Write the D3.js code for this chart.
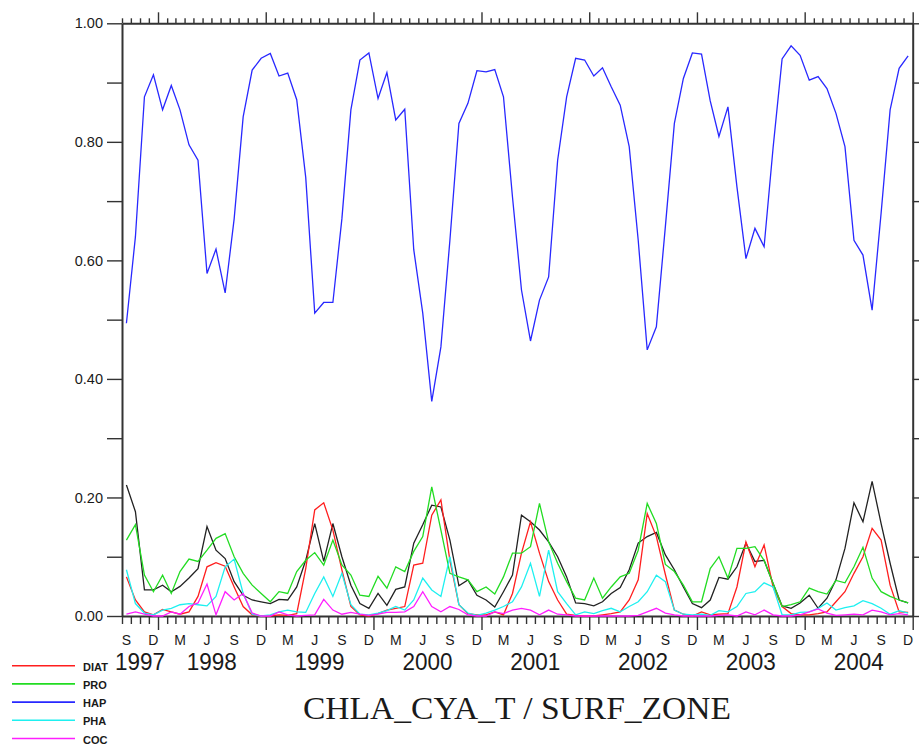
<!DOCTYPE html>
<html>
<head>
<meta charset="utf-8">
<script src="https://cdnjs.cloudflare.com/ajax/libs/d3/7.8.5/d3.min.js"></script>
<style>
  body { margin: 0; background: #fff; }
  svg { display: block; }
  text { font-family: "Liberation Sans", Arial, sans-serif; fill: #1a1a1a; }
</style>
</head>
<body>
<div id="main"></div>
<script>
// monthly values, Sep 1997 .. Dec 2004 (88 months)
var firstMonth = new Date(1997, 8, 1);
var lastMonth = new Date(2005, 0, 1);

var diat = [0.066, 0.027, 0.007, 0.002,
  0.011, 0.007, 0.003, 0.007, 0.033, 0.083, 0.090, 0.084, 0.049, 0.016, 0.002, 0.000,
  0.000, 0.002, 0.001, 0.004, 0.080, 0.179, 0.191, 0.145, 0.078, 0.016, 0.002, 0.000,
  0.004, 0.010, 0.013, 0.016, 0.086, 0.089, 0.170, 0.196, 0.094, 0.019, 0.004, 0.002,
  0.002, 0.007, 0.002, 0.038, 0.106, 0.159, 0.106, 0.058, 0.027, 0.003, 0.001, 0.000,
  0.000, 0.002, 0.004, 0.007, 0.027, 0.061, 0.173, 0.134, 0.070, 0.010, 0.003, 0.000,
  0.007, 0.002, 0.003, 0.004, 0.049, 0.125, 0.083, 0.120, 0.049, 0.016, 0.004, 0.002,
  0.002, 0.004, 0.007, 0.024, 0.041, 0.072, 0.100, 0.148, 0.128, 0.052, 0.007, 0.006];

var pro = [0.128, 0.154, 0.069, 0.041,
  0.069, 0.038, 0.075, 0.096, 0.092, 0.111, 0.131, 0.139, 0.100, 0.072, 0.052, 0.038,
  0.024, 0.041, 0.038, 0.075, 0.094, 0.107, 0.086, 0.128, 0.086, 0.069, 0.035, 0.033,
  0.067, 0.047, 0.083, 0.075, 0.109, 0.134, 0.218, 0.145, 0.072, 0.066, 0.061, 0.041,
  0.049, 0.037, 0.066, 0.106, 0.106, 0.117, 0.190, 0.125, 0.089, 0.058, 0.030, 0.027,
  0.064, 0.030, 0.049, 0.066, 0.072, 0.111, 0.190, 0.156, 0.087, 0.075, 0.052, 0.024,
  0.024, 0.080, 0.100, 0.064, 0.114, 0.114, 0.117, 0.094, 0.055, 0.016, 0.019, 0.024,
  0.047, 0.041, 0.037, 0.060, 0.056, 0.083, 0.116, 0.064, 0.041, 0.033, 0.027, 0.022];

var hap = [0.494, 0.640, 0.876, 0.913,
  0.854, 0.895, 0.854, 0.795, 0.769, 0.578, 0.619, 0.545, 0.670, 0.842, 0.921, 0.941,
  0.949, 0.911, 0.916, 0.871, 0.740, 0.511, 0.529, 0.529, 0.670, 0.854, 0.938, 0.950,
  0.873, 0.917, 0.837, 0.855, 0.618, 0.511, 0.362, 0.454, 0.634, 0.831, 0.865, 0.920,
  0.918, 0.922, 0.876, 0.707, 0.550, 0.464, 0.533, 0.572, 0.769, 0.876, 0.941, 0.938,
  0.911, 0.925, 0.893, 0.862, 0.792, 0.634, 0.449, 0.488, 0.657, 0.831, 0.907, 0.950,
  0.948, 0.869, 0.809, 0.859, 0.724, 0.603, 0.654, 0.623, 0.790, 0.940, 0.962, 0.946,
  0.904, 0.910, 0.890, 0.848, 0.792, 0.634, 0.609, 0.516, 0.680, 0.854, 0.924, 0.945];

var pha = [0.078, 0.021, 0.005, 0.002,
  0.010, 0.013, 0.019, 0.021, 0.019, 0.017, 0.033, 0.083, 0.096, 0.038, 0.003, 0.000,
  0.002, 0.007, 0.010, 0.007, 0.006, 0.038, 0.066, 0.033, 0.072, 0.019, 0.003, 0.002,
  0.005, 0.009, 0.016, 0.010, 0.027, 0.064, 0.044, 0.033, 0.100, 0.019, 0.005, 0.001,
  0.005, 0.010, 0.016, 0.024, 0.049, 0.089, 0.033, 0.111, 0.041, 0.021, 0.002, 0.007,
  0.004, 0.009, 0.013, 0.007, 0.016, 0.024, 0.041, 0.069, 0.058, 0.010, 0.003, 0.002,
  0.003, 0.001, 0.009, 0.007, 0.016, 0.038, 0.041, 0.056, 0.049, 0.002, 0.002, 0.006,
  0.007, 0.013, 0.022, 0.010, 0.014, 0.017, 0.026, 0.021, 0.013, 0.003, 0.009, 0.005];

var coc = [0.003, 0.007, 0.003, 0.000,
  0.000, 0.007, 0.003, 0.016, 0.022, 0.054, 0.002, 0.041, 0.027, 0.038, 0.005, 0.000,
  0.000, 0.007, 0.002, 0.000, 0.001, 0.002, 0.028, 0.010, 0.003, 0.006, 0.003, 0.001,
  0.003, 0.006, 0.006, 0.007, 0.016, 0.041, 0.016, 0.007, 0.016, 0.011, 0.002, 0.000,
  0.000, 0.007, 0.004, 0.010, 0.013, 0.010, 0.002, 0.010, 0.003, 0.002, 0.000, 0.000,
  0.000, 0.000, 0.000, 0.000, 0.000, 0.001, 0.007, 0.013, 0.005, 0.002, 0.000, 0.000,
  0.000, 0.000, 0.001, 0.002, 0.000, 0.007, 0.002, 0.010, 0.002, 0.000, 0.000, 0.002,
  0.007, 0.012, 0.005, 0.001, 0.002, 0.003, 0.002, 0.010, 0.007, 0.002, 0.004, 0.002];

// black line, not in the legend
var blackLine = [0.221, 0.176, 0.044, 0.044,
  0.052, 0.041, 0.050, 0.064, 0.080, 0.151, 0.111, 0.097, 0.058, 0.035, 0.027, 0.024,
  0.021, 0.028, 0.027, 0.049, 0.094, 0.156, 0.092, 0.156, 0.100, 0.052, 0.021, 0.013,
  0.038, 0.018, 0.045, 0.049, 0.123, 0.154, 0.187, 0.184, 0.128, 0.051, 0.061, 0.035,
  0.027, 0.015, 0.041, 0.069, 0.170, 0.159, 0.145, 0.125, 0.100, 0.066, 0.022, 0.021,
  0.017, 0.024, 0.038, 0.048, 0.078, 0.123, 0.134, 0.141, 0.103, 0.078, 0.049, 0.021,
  0.014, 0.027, 0.065, 0.062, 0.083, 0.123, 0.092, 0.094, 0.055, 0.017, 0.013, 0.022,
  0.035, 0.013, 0.030, 0.061, 0.114, 0.191, 0.159, 0.227, 0.156, 0.089, 0.027, 0.022];

var seriesNames = ["DIAT", "PRO", "HAP", "PHA", "COC"];
var seriesValues = [diat, pro, hap, pha, coc];
var seriesColors = ["#ff1e1e", "#22dc22", "#2828ff", "#1ef0f0", "#ff1eff"];

var yTickLabels = ["0.00", "0.20", "0.40", "0.60", "0.80", "1.00"];
var monthLetters = {8: "S", 11: "D", 2: "M", 5: "J"};
var yearLabels = ["1997", "1998", "1999", "2000", "2001", "2002", "2003", "2004"];
var title = "CHLA_CYA_T / SURF_ZONE";

var width = 919, height = 744;
var margin = {top: 23.3, right: 6.3, bottom: 128, left: 122};

var svg = d3.select("#main").append("svg")
  .attr("width", width)
  .attr("height", height);

var x = d3.scaleTime()
  .domain([firstMonth, lastMonth])
  .range([margin.left, width - margin.right]);

var y = d3.scaleLinear()
  .domain([0, 1])
  .range([height - margin.bottom, margin.top]);

// one date per month, at mid month
var months = d3.timeMonth.range(firstMonth, lastMonth);
function midMonth(d) {
  var next = d3.timeMonth.offset(d, 1);
  return new Date((d.getTime() + next.getTime()) / 2);
}

var line = d3.line()
  .x(function(d, i) { return x(midMonth(months[i])); })
  .y(function(d) { return y(d); });

// axes
function styleAxis(g) {
  g.select(".domain").attr("stroke", "#333").attr("stroke-width", 2);
  g.selectAll(".tick line").attr("stroke", "#333").attr("stroke-width", 1.4);
}

var bottomAxis = svg.append("g")
  .attr("transform", "translate(0," + y(0) + ")")
  .call(d3.axisBottom(x).ticks(d3.timeMonth.every(1)).tickSize(8).tickSizeOuter(0).tickFormat(""))
  .call(styleAxis);
bottomAxis.selectAll(".tick line")
  .attr("y2", function(d) { return d.getMonth() == 0 ? 14 : 8; });

var topAxis = svg.append("g")
  .attr("transform", "translate(0," + y(1) + ")")
  .call(d3.axisTop(x).ticks(d3.timeMonth.every(1)).tickSize(5).tickSizeOuter(0).tickFormat(""))
  .call(styleAxis);
topAxis.selectAll(".tick line")
  .attr("y2", function(d) { return d.getMonth() == 0 ? -11 : -5; });

var yTicks = d3.range(0, 11).map(function(k) { return k / 10; });

svg.append("g")
  .attr("transform", "translate(" + x(firstMonth) + ",0)")
  .call(d3.axisLeft(y).tickValues(yTicks).tickSize(15).tickSizeOuter(0).tickPadding(4)
    .tickFormat(function(d, i) { return i % 2 == 0 ? yTickLabels[i / 2] : ""; }))
  .call(styleAxis)
  .selectAll("text")
  .style("font-size", "14.5px")
  .attr("fill", "#222");

svg.append("g")
  .attr("transform", "translate(" + x(lastMonth) + ",0)")
  .call(d3.axisRight(y).tickValues(yTicks).tickSize(15).tickSizeOuter(0).tickFormat(""))
  .call(styleAxis);

// month letters and years under the axis
svg.append("g").selectAll("text")
  .data(months.filter(function(d) { return monthLetters[d.getMonth()] !== undefined; }))
  .enter().append("text")
  .attr("x", function(d) { return x(midMonth(d)); })
  .attr("y", 645)
  .attr("text-anchor", "middle")
  .style("font-size", "14px")
  .text(function(d) { return monthLetters[d.getMonth()]; });

svg.append("g").selectAll("text")
  .data(yearLabels)
  .enter().append("text")
  .attr("x", function(d) {
    var a = d3.max([new Date(+d, 0, 1), firstMonth]);
    var b = new Date(+d + 1, 0, 1);
    return (x(a) + x(b)) / 2;
  })
  .attr("y", 670)
  .attr("text-anchor", "middle")
  .attr("textLength", 50)
  .attr("lengthAdjust", "spacingAndGlyphs")
  .style("font-size", "24px")
  .text(function(d) { return d; });

// lines
svg.append("path")
  .datum(blackLine)
  .attr("fill", "none")
  .attr("stroke", "#222")
  .attr("stroke-width", 1.3)
  .attr("d", line);

seriesValues.forEach(function(values, i) {
  svg.append("path")
    .datum(values)
    .attr("fill", "none")
    .attr("stroke", seriesColors[i])
    .attr("stroke-width", 1.3)
    .attr("d", line);
});

// legend, bottom left
var legend = svg.selectAll(".legend")
  .data(seriesNames)
  .enter().append("g")
  .attr("class", "legend")
  .attr("transform", function(d, i) {
    return "translate(0," + (665.7 + i * 18.2) + ")";
  });

legend.append("line")
  .attr("x1", 12)
  .attr("x2", 75)
  .attr("stroke", function(d, i) { return seriesColors[i]; })
  .attr("stroke-width", 1.6);

legend.append("text")
  .attr("x", 83)
  .attr("y", 5)
  .style("font-size", "11px")
  .style("font-weight", "bold")
  .text(function(d) { return d; });

svg.append("text")
  .attr("x", 517)
  .attr("y", 718.5)
  .attr("text-anchor", "middle")
  .attr("textLength", 428)
  .attr("lengthAdjust", "spacingAndGlyphs")
  .style("font-family", "\"Liberation Serif\", \"DejaVu Serif\", serif")
  .style("font-size", "31px")
  .text(title);
</script>
</body>
</html>
